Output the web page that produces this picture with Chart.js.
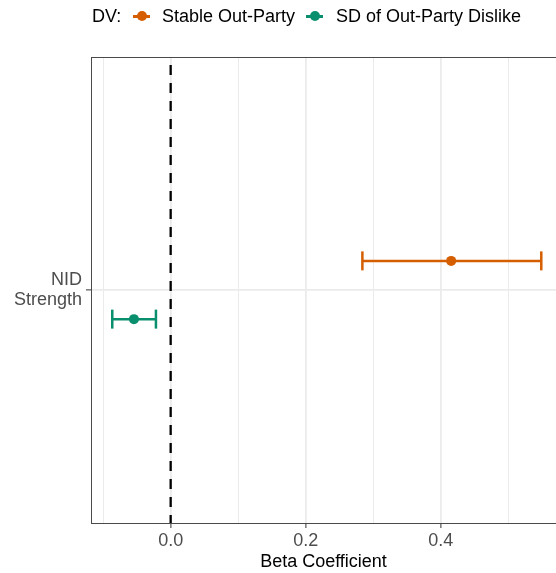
<!DOCTYPE html>
<html>
<head>
<meta charset="utf-8">
<script src="https://cdn.jsdelivr.net/npm/chart.js@4/dist/chart.umd.min.js"></script>
<style>
    html, body { margin: 0; padding: 0; background: #fff; }
    #wrap { position: relative; width: 556px; height: 573px; overflow: hidden; }
    #legend { position: absolute; left: 0; top: 0; width: 556px; height: 34px;
        font-family: 'Liberation Sans', Arial, sans-serif; font-size: 18px; color: #000; }
    #legend span { position: absolute; top: 6px; white-space: nowrap; line-height: 20px; }
    .sym { width: 17px; height: 20px; }
    .sym i { position: absolute; left: 0; top: 9px; width: 17px; height: 2.5px; }
    .sym b { position: absolute; left: 3.5px; top: 5px; width: 10px; height: 10px; border-radius: 50%; }
</style>
</head>
<body>
<div id="wrap">
    <canvas id="coefChart" width="556" height="573"></canvas>
    <div id="legend"></div>
</div>
<script>
// 係数プロットのデータ
const terms = ['NID Strength'];
const seriesNames = ['Stable Out-Party', 'SD of Out-Party Dislike'];
const seriesColors = ['#D55E00', '#0A8F6E'];
const estimates = [0.4155, -0.0544];
const lowerCI = [0.284, -0.0865];
const upperCI = [0.549, -0.0218];
const dodgeOffsets = [0.075, -0.075];
const xTicks = [-0.1, 0.0, 0.1, 0.2, 0.3, 0.4, 0.5];
const xMajorTicks = [0.0, 0.2, 0.4];
const xRange = [-0.118, 0.5708];
const yRange = [0.4, 1.6];

function isMajor(v) {
    return xMajorTicks.some(m => Math.abs(m - v) < 1e-9);
}

document.addEventListener('DOMContentLoaded', () => {
    renderLegend();
    renderCoefChart();
});

function renderLegend() {
    const legend = document.getElementById('legend');
    legend.innerHTML = '<span style="left:92px">DV:</span>';
    const symLeft = [133, 306];
    const textLeft = [162, 336];
    seriesNames.forEach((name, i) => {
        legend.innerHTML += `
            <span class="sym" style="left:${symLeft[i]}px"><i style="background:${seriesColors[i]}"></i><b style="background:${seriesColors[i]}"></b></span>
            <span style="left:${textLeft[i]}px">${name}</span>`;
    });
}

function renderCoefChart() {
    const ctx = document.getElementById('coefChart').getContext('2d');
    const datasets = [];

    // 点推定
    seriesNames.forEach((name, i) => {
        datasets.push({
            label: name,
            data: [{ x: estimates[i], y: 1 + dodgeOffsets[i] }],
            pointRadius: 5,
            pointBackgroundColor: seriesColors[i],
            pointBorderWidth: 0,
            showLine: false
        });
    });

    // 信頼区間
    seriesNames.forEach((name, i) => {
        datasets.push({
            label: name + ' CI',
            data: [
                { x: lowerCI[i], y: 1 + dodgeOffsets[i] },
                { x: upperCI[i], y: 1 + dodgeOffsets[i] }
            ],
            showLine: true,
            borderColor: seriesColors[i],
            borderWidth: 2.5,
            pointStyle: 'line',
            rotation: 90,
            pointRadius: 9.5,
            pointBorderColor: seriesColors[i],
            pointBorderWidth: 2.5
        });
    });

    // x = 0 の破線
    datasets.push({
        label: 'zero',
        data: [{ x: 0, y: yRange[1] }, { x: 0, y: yRange[0] }],
        showLine: true,
        borderColor: '#000',
        borderWidth: 2.3,
        borderDash: [10, 8],
        borderDashOffset: 10,
        pointRadius: 0
    });

    const topBorder = {
        id: 'topBorder',
        afterDraw(chart) {
            const a = chart.chartArea;
            const c = chart.ctx;
            c.save();
            c.strokeStyle = '#4a4a4a';
            c.lineWidth = 1;
            c.beginPath();
            c.moveTo(a.left, a.top + 0.5);
            c.lineTo(a.right, a.top + 0.5);
            c.stroke();
            c.restore();
        }
    };

    new Chart(ctx, {
        type: 'scatter',
        data: { datasets: datasets },
        plugins: [topBorder],
        options: {
            responsive: false,
            animation: false,
            layout: { autoPadding: false, padding: { top: 57, right: 0, left: 0, bottom: 0 } },
            plugins: {
                legend: { display: false },
                tooltip: { enabled: false }
            },
            scales: {
                x: {
                    type: 'linear',
                    min: xRange[0],
                    max: xRange[1],
                    afterBuildTicks: scale => {
                        scale.ticks = xTicks.map(v => ({ value: v }));
                    },
                    afterFit: scale => {
                        scale.height = 50;
                        scale.paddingLeft = 0;
                        scale.paddingRight = 0;
                    },
                    ticks: {
                        autoSkip: false,
                        maxRotation: 0,
                        padding: 2,
                        color: '#4D4D4D',
                        font: { family: "'Liberation Sans', Arial, sans-serif", size: 18 },
                        callback: v => isMajor(v) ? v.toFixed(1) : ''
                    },
                    grid: {
                        color: '#EBEBEB',
                        lineWidth: c => isMajor(c.tick.value) ? 1.8 : 1,
                        tickColor: c => isMajor(c.tick.value) ? '#333333' : 'rgba(0,0,0,0)',
                        tickLength: 5,
                        tickWidth: 1
                    },
                    border: { display: true, color: '#4a4a4a', width: 1 },
                    title: {
                        display: true,
                        text: 'Beta Coefficient',
                        color: '#000',
                        padding: { top: 0, bottom: 0 },
                        font: { family: "'Liberation Sans', Arial, sans-serif", size: 18 }
                    }
                },
                y: {
                    type: 'linear',
                    min: yRange[0],
                    max: yRange[1],
                    afterBuildTicks: scale => {
                        scale.ticks = [{ value: 1 }];
                    },
                    afterFit: scale => { scale.width = 91; },
                    ticks: {
                        padding: 4,
                        color: '#4D4D4D',
                        font: { family: "'Liberation Sans', Arial, sans-serif", size: 18, lineHeight: 1.1 },
                        callback: () => terms[0].split(' ')
                    },
                    grid: {
                        color: '#EBEBEB',
                        lineWidth: 1.8,
                        tickColor: '#333333',
                        tickLength: 5,
                        tickWidth: 1
                    },
                    border: { display: true, color: '#4a4a4a', width: 1 }
                }
            }
        }
    });
}
</script>
</body>
</html>
